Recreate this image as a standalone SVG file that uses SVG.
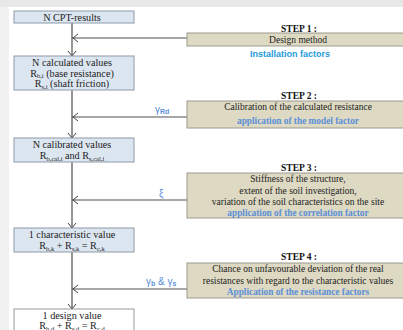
<svg xmlns="http://www.w3.org/2000/svg" width="403" height="330" viewBox="0 0 403 330">
<defs>
<style>
.bg{fill:#ffffff}
.vbox{fill:#dce6f1;stroke:#8e9aa8;stroke-width:1}
.wbox{fill:#ffffff;stroke:#9a9a9a;stroke-width:1}
.sbox{fill:#ddd9c3;stroke:#9c9a90;stroke-width:1}
.t{font-family:"Liberation Serif","Times New Roman",serif;font-size:10.2px;fill:#222;text-anchor:middle}
.st{font-family:"Liberation Serif","Times New Roman",serif;font-size:9.5px;fill:#222;text-anchor:middle}
.hd{font-family:"Liberation Serif","Times New Roman",serif;font-size:9.5px;font-weight:bold;fill:#111;text-anchor:middle}
.bl{font-family:"Liberation Serif","Times New Roman",serif;font-size:9.3px;font-weight:bold;fill:#5b8fd8;text-anchor:middle}
.inst{font-family:"Liberation Sans",Arial,sans-serif;font-size:9px;font-weight:bold;fill:#1e9ad8;text-anchor:middle}
.lb{font-family:"Liberation Sans",Arial,sans-serif;font-size:10px;fill:#5b8fd8}
.sub{font-size:6.5px}
.lsub{font-size:7px;font-weight:bold}
.ln{stroke:#505050;stroke-width:1.2;fill:none}
.hd2{stroke:#444;stroke-width:1;fill:none}
</style>
</defs>
<rect x="0" y="0" width="403" height="330" fill="#f1f1f1"/>
<rect x="0" y="0" width="403" height="7" fill="#e8e8e8"/>
<rect class="bg" x="9" y="7" width="394" height="323"/>

<g id="connectors">
<line class="ln" x1="72" y1="23" x2="72" y2="309"/>
<line class="ln" x1="72" y1="38" x2="187" y2="38"/>
<polyline class="hd2" points="78,34 73,38 78,42"/>
<polyline class="hd2" points="68,51 72,56 76,51"/>
<line class="ln" x1="72" y1="117" x2="187" y2="117"/>
<polyline class="hd2" points="78,113 73,117 78,121"/>
<polyline class="hd2" points="68,133 72,138 76,133"/>
<line class="ln" x1="72" y1="200" x2="187" y2="200"/>
<polyline class="hd2" points="78,196 73,200 78,204"/>
<polyline class="hd2" points="68,223 72,228 76,223"/>
<line class="ln" x1="72" y1="289" x2="187" y2="289"/>
<polyline class="hd2" points="78,285 73,289 78,293"/>
<polyline class="hd2" points="68,304 72,309 76,304"/>
<text class="lb" x="155" y="113">γ<tspan class="lsub" dy="1">Rd</tspan></text>
<text class="lb" x="159" y="197">ξ</text>
<text class="lb" x="146" y="285">γ<tspan class="lsub" dy="1">b</tspan><tspan dy="-1"> &amp; γ</tspan><tspan class="lsub" dy="1">s</tspan></text>
</g>

<g id="cpt">
<rect class="vbox" x="14" y="11" width="120" height="12"/>
<text class="t" x="72" y="20.5">N CPT-results</text>
</g>

<g id="calculated">
<rect class="vbox" x="14" y="56" width="120" height="34"/>
<text class="t" x="72" y="66">N calculated values</text>
<text class="t" x="72" y="76.5">R<tspan class="sub" dy="1.5">b,i</tspan><tspan dy="-1.5"> (base resistance)</tspan></text>
<text class="t" x="72" y="87">R<tspan class="sub" dy="1.5">s,i</tspan><tspan dy="-1.5"> (shaft friction)</tspan></text>
</g>

<g id="calibrated">
<rect class="vbox" x="14" y="138" width="120" height="24"/>
<text class="t" x="72" y="148">N calibrated values</text>
<text class="t" x="72" y="159">R<tspan class="sub" dy="1.5">b,cal,i</tspan><tspan dy="-1.5"> and R</tspan><tspan class="sub" dy="1.5">s,cal,i</tspan></text>
</g>

<g id="characteristic">
<rect class="vbox" x="14" y="228" width="120" height="24"/>
<text class="t" x="72" y="237.5">1 characteristic value</text>
<text class="t" x="72" y="249">R<tspan class="sub" dy="1.5">b,k</tspan><tspan dy="-1.5"> + R</tspan><tspan class="sub" dy="1.5">s,k</tspan><tspan dy="-1.5"> = R</tspan><tspan class="sub" dy="1.5">c,k</tspan></text>
</g>

<g id="design">
<rect class="wbox" x="14" y="309" width="120" height="30"/>
<text class="t" x="72" y="319">1 design value</text>
<text class="t" x="72" y="329">R<tspan class="sub" dy="1.5">b,d</tspan><tspan dy="-1.5"> + R</tspan><tspan class="sub" dy="1.5">s,d</tspan><tspan dy="-1.5"> = R</tspan><tspan class="sub" dy="1.5">c,d</tspan></text>
</g>

<g id="step1">
<text class="hd" x="299" y="32">STEP 1 :</text>
<rect class="sbox" x="187" y="33" width="224" height="13"/>
<text class="st" x="298" y="43">Design method</text>
<text class="inst" x="290" y="57">Installation factors</text>
</g>

<g id="step2">
<text class="hd" x="299" y="99">STEP 2 :</text>
<rect class="sbox" x="187" y="101" width="224" height="27"/>
<text class="st" x="298" y="110">Calibration of the calculated resistance</text>
<text class="bl" x="298" y="124">application of the model factor</text>
</g>

<g id="step3">
<text class="hd" x="299" y="171">STEP 3 :</text>
<rect class="sbox" x="187" y="173" width="224" height="45"/>
<text class="st" x="298" y="182">Stiffness of the structure,</text>
<text class="st" x="298" y="193.5">extent of the soil investigation,</text>
<text class="st" x="298" y="204.5">variation of the soil characteristics on the site</text>
<text class="bl" x="298" y="215.5">application of the correlation factor</text>
</g>

<g id="step4">
<text class="hd" x="299" y="260">STEP 4 :</text>
<rect class="sbox" x="187" y="263" width="224" height="35"/>
<text class="st" x="298" y="272">Chance on unfavourable deviation of the real</text>
<text class="st" x="298" y="283.5">resistances with regard to the characteristic values</text>
<text class="bl" x="298" y="295">Application of the resistance factors</text>
</g>
</svg>
